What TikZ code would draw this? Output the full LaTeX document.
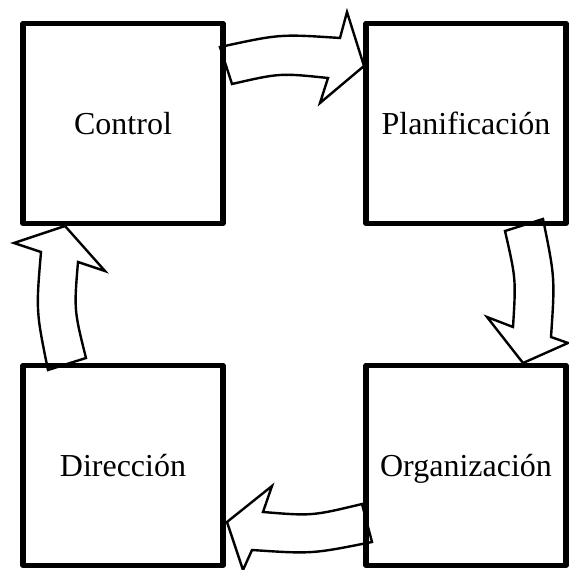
\documentclass[tikz,border=0pt]{standalone}
\usepackage{fontspec}
\setmainfont{Liberation Serif}
\usepackage{tikz}
\usetikzlibrary{positioning}

\begin{document}
\begin{tikzpicture}[x=0.75pt,y=-0.75pt]
	\tikzset{
		box/.style={draw,line width=4.1pt,line join=round,minimum width=150pt,minimum height=150pt,inner sep=0,
			font=\fontsize{24}{28}\selectfont,text height=16pt,text depth=0pt},
		%
		blockarrow/.style={draw,fill=white,line width=1.8pt,line join=miter}
	}
	
	\useasboundingbox (0,0) rectangle (568,570);
	
	% curved block arrows, clockwise
	\draw[blockarrow] (220,47) .. controls (280,34) .. (340,38) -- (347,12) -- (364,66) -- (320,103) -- (328,78) .. controls (280,73) .. (232,84) -- cycle;
	\draw[blockarrow] (505,231) .. controls (516,279) .. (513,327) -- (487,317) -- (523,363) -- (568,343) -- (551,337) .. controls (555,278) .. (543,219) -- cycle;
	\draw[blockarrow] (362,504) .. controls (312,516) .. (263,512) -- (272,486) -- (227,522) -- (243,570) -- (252,550) .. controls (312,554) .. (372,542) -- cycle;
	\draw[blockarrow] (48,370) .. controls (36,311) .. (41,252) -- (14,243) -- (65,226) -- (105,271) -- (78,262) .. controls (74,310) .. (86,358) -- cycle;
	
	\node[box] (control) at (123,123.5) {Control};
	\node[box] (plan) at (466,123.5) {Planificación};
	\node[box] (org) at (466,465.5) {Organización};
	\node[box] (dir) at (123,465.5) {Dirección};
	
\end{tikzpicture}
\end{document}
